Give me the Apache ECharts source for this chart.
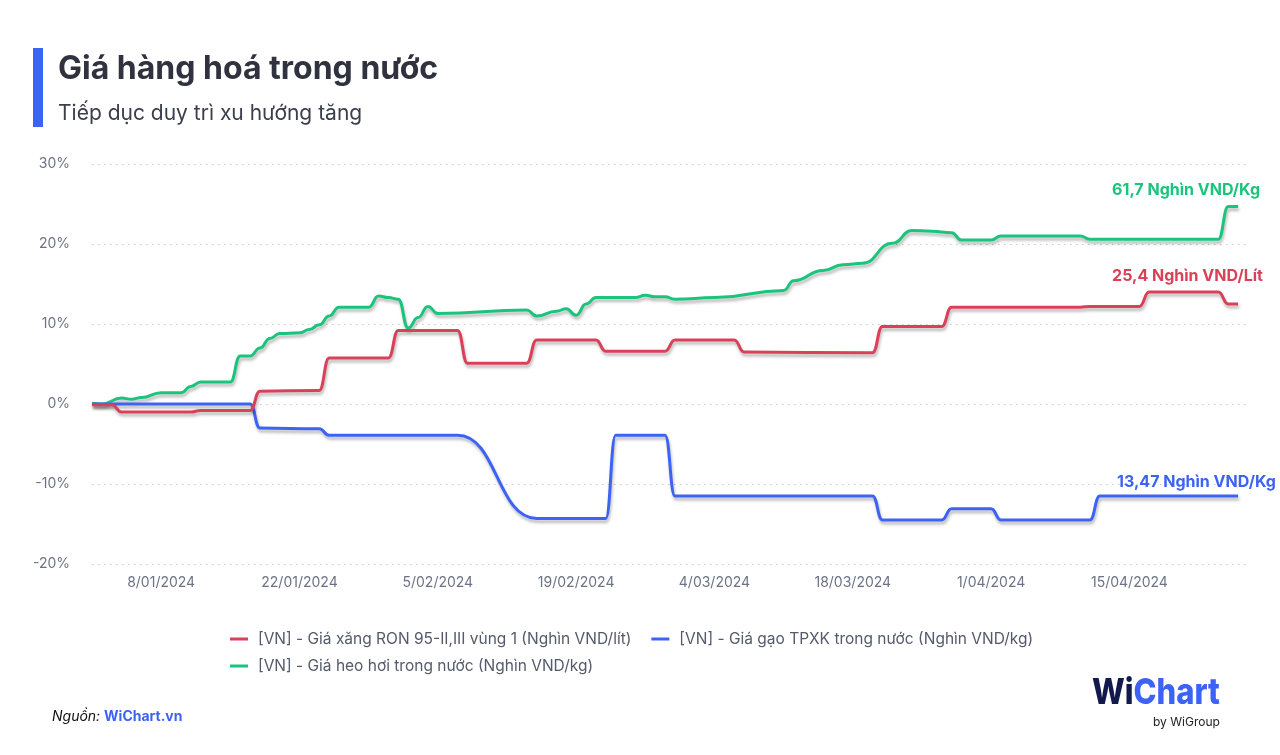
<!DOCTYPE html>
<html>
<head>
<meta charset="utf-8">
<script src="https://cdn.jsdelivr.net/npm/echarts@6/dist/echarts.min.js"></script>
<style>
  html, body { margin: 0; padding: 0; background: #fff; }
  #chart { width: 1280px; height: 755px; }
</style>
</head>
<body>
<div id="chart"></div>
<script>
var fontName = 'Inter, "Noto Sans", sans-serif';
var titleText = 'Giá hàng hoá trong nước';
var subText = 'Tiếp dục duy trì xu hướng tăng';

var seriesNames = [
  '[VN] - Giá xăng RON 95-II,III vùng 1 (Nghìn VND/lít)',
  '[VN] - Giá gạo TPXK trong nước (Nghìn VND/kg)',
  '[VN] - Giá heo hơi trong nước (Nghìn VND/kg)'
];
var lastLabels = ['25,4 Nghìn VND/Lít', '13,47 Nghìn VND/Kg', '61,7 Nghìn VND/Kg'];
var colors = ['#da4058', '#3d63f6', '#1bc47d'];

// xăng RON 95 (% thay đổi)
var xangDates = ['2024-01-01','2024-01-03','2024-01-04','2024-01-11','2024-01-12','2024-01-17','2024-01-18',
  '2024-01-24','2024-01-25','2024-01-31','2024-02-01','2024-02-07','2024-02-08','2024-02-14','2024-02-15',
  '2024-02-21','2024-02-22','2024-02-28','2024-02-29','2024-03-06','2024-03-07','2024-03-20','2024-03-21',
  '2024-03-27','2024-03-28','2024-04-10','2024-04-11','2024-04-16','2024-04-17','2024-04-24','2024-04-25','2024-04-26'];
var xangValues = [-0.1,-0.1,-1.0,-1.0,-0.8,-0.8,1.6,
  1.7,5.75,5.75,9.2,9.2,5.1,5.1,8.0,
  8.0,6.6,6.6,8.0,8.0,6.5,6.4,9.7,
  9.7,12.1,12.1,12.2,12.2,14.0,14.0,12.5,12.5];

// gạo TPXK
var gaoDates = ['2024-01-01','2024-01-17','2024-01-18','2024-01-24','2024-01-25','2024-02-07','2024-02-15',
  '2024-02-22','2024-02-23','2024-02-28','2024-02-29','2024-03-20','2024-03-21','2024-03-27','2024-03-28',
  '2024-04-01','2024-04-02','2024-04-11','2024-04-12','2024-04-26'];
var gaoValues = [0,0,-3.0,-3.1,-3.9,-3.9,-14.3,
  -14.3,-3.9,-3.9,-11.5,-11.5,-14.5,-14.5,-13.1,
  -13.1,-14.5,-14.5,-11.5,-11.5];

// heo hơi
var heoDates = ['2024-01-01','2024-01-02','2024-01-04','2024-01-05','2024-01-06','2024-01-08','2024-01-10',
  '2024-01-11','2024-01-12','2024-01-15','2024-01-16','2024-01-17','2024-01-18','2024-01-19','2024-01-20',
  '2024-01-22','2024-01-23','2024-01-24','2024-01-25','2024-01-26','2024-01-29','2024-01-30','2024-01-31',
  '2024-02-01','2024-02-02','2024-02-03','2024-02-04','2024-02-05','2024-02-14','2024-02-15','2024-02-17',
  '2024-02-18','2024-02-19','2024-02-20','2024-02-21','2024-02-25','2024-02-26','2024-02-27','2024-02-28',
  '2024-02-29','2024-03-04','2024-03-11','2024-03-12','2024-03-15','2024-03-17','2024-03-19','2024-03-22',
  '2024-03-24','2024-03-26','2024-03-28','2024-03-29','2024-04-01','2024-04-02','2024-04-10','2024-04-11',
  '2024-04-24','2024-04-25','2024-04-26'];
var heoValues = [0.1,0.0,0.75,0.6,0.8,1.4,1.4,
  2.2,2.75,2.75,6.0,6.0,7.0,8.2,8.8,
  8.9,9.3,9.9,11.0,12.1,12.1,13.5,13.3,
  13.1,9.5,10.8,12.2,11.3,11.75,11.0,11.6,
  11.9,11.1,12.5,13.3,13.3,13.6,13.4,13.4,
  13.1,13.3,14.2,15.4,16.7,17.4,17.6,20.1,
  21.7,21.6,21.4,20.5,20.5,21.0,21.0,20.6,
  20.6,24.7,24.7];

var xTickDates = ['2024-01-08','2024-01-22','2024-02-05','2024-02-19','2024-03-04','2024-03-18','2024-04-01','2024-04-15'];
var xMinDate = '2024-01-01';
var xMaxDate = '2024-04-27';

// ngày -> số ngày kể từ 01/01/2024
var DAY = 86400000;
var base = Date.UTC(2024, 0, 1);
function toDay(s) {
  var p = s.split('-');
  return Math.round((Date.UTC(+p[0], +p[1] - 1, +p[2]) - base) / DAY);
}
function pairs(dates, values) {
  return dates.map(function (d, i) { return [toDay(d), values[i]]; });
}
function fmtDay(v) {
  var d = new Date(base + Math.round(v) * DAY);
  var m = d.getUTCMonth() + 1;
  return d.getUTCDate() + '/' + (m < 10 ? '0' + m : m) + '/' + d.getUTCFullYear();
}

var allData = [pairs(xangDates, xangValues), pairs(gaoDates, gaoValues), pairs(heoDates, heoValues)];
var labelOffsets = [[-126, -28], [-121, -14], [-126, -16]];

var myChart = echarts.init(document.getElementById('chart'));

var series = seriesNames.map(function (name, i) {
  return {
    name: name,
    type: 'line',
    data: allData[i],
    smooth: 0.5,
    smoothMonotone: 'x',
    showSymbol: false,
    symbol: 'none',
    color: colors[i],
    lineStyle: {
      width: 3,
      color: colors[i],
      shadowColor: 'rgba(0,0,0,0.28)',
      shadowBlur: 3,
      shadowOffsetY: 3,
      shadowOffsetX: 1
    },
    endLabel: {
      show: true,
      formatter: lastLabels[i],
      color: colors[i],
      fontFamily: fontName,
      fontSize: 16,
      fontWeight: 700,
      align: 'left',
      verticalAlign: 'middle',
      distance: 0,
      offset: labelOffsets[i]
    },
    z: 3 - i
  };
});

var legendBase = {
  left: 225,
  icon: 'rect',
  itemWidth: 18,
  itemHeight: 3,
  itemGap: 20,
  textStyle: { color: '#545a6b', fontSize: 15.5, padding: [0, 0, 0, 5] }
};

var option = {
  backgroundColor: '#fff',
  animation: false,
  textStyle: { fontFamily: fontName },
  grid: { left: 92, right: 32, top: 164, bottom: 191 },
  xAxis: {
    type: 'value',
    min: toDay(xMinDate),
    max: toDay(xMaxDate),
    axisLine: { show: false },
    axisTick: { show: false },
    splitLine: { show: false },
    axisLabel: {
      customValues: xTickDates.map(toDay),
      formatter: function (v) { return fmtDay(v); },
      color: '#6b7386',
      fontSize: 14,
      margin: 12
    }
  },
  yAxis: {
    type: 'value',
    min: -20,
    max: 30,
    interval: 10,
    axisLine: { show: false },
    axisTick: { show: false },
    axisLabel: {
      formatter: '{value}%',
      color: '#6b7386',
      fontSize: 14,
      margin: 22
    },
    splitLine: {
      lineStyle: { color: '#c9c9c9', type: [1.5, 4.5], width: 1 }
    }
  },
  legend: [
    Object.assign({}, legendBase, { top: 626, data: seriesNames.slice(0, 2) }),
    Object.assign({}, legendBase, { top: 653, data: seriesNames.slice(2) })
  ],
  graphic: [
    { type: 'rect', left: 33, top: 48, shape: { width: 10, height: 79 }, style: { fill: '#3d63f6' } },
    { type: 'text', left: 58, top: 53, style: { text: titleText, fill: '#30333f', font: '700 32px ' + fontName } },
    { type: 'text', left: 58, top: 103, style: { text: subText, fill: '#3b3e4b', font: '400 21px ' + fontName } },
    {
      type: 'text', left: 52, top: 710,
      style: {
        text: '{a|Nguồn: }{b|WiChart.vn}',
        rich: {
          a: { font: 'italic 400 14px ' + fontName, fill: '#111' },
          b: { font: '700 14px ' + fontName, fill: '#3d63f6' }
        }
      }
    },
    {
      type: 'text', x: 1092, y: 675, scaleX: 0.86,
      style: {
        text: '{w|Wi}{c|Chart}',
        rich: {
          w: { font: '800 36px ' + fontName, fill: '#12194d' },
          c: { font: '800 36px ' + fontName, fill: '#3d63f6' }
        }
      }
    },
    { type: 'text', left: 1153, top: 716, style: { text: 'by WiGroup', fill: '#222', font: '400 12px ' + fontName } }
  ],
  series: series
};

myChart.setOption(option);
</script>
</body>
</html>
